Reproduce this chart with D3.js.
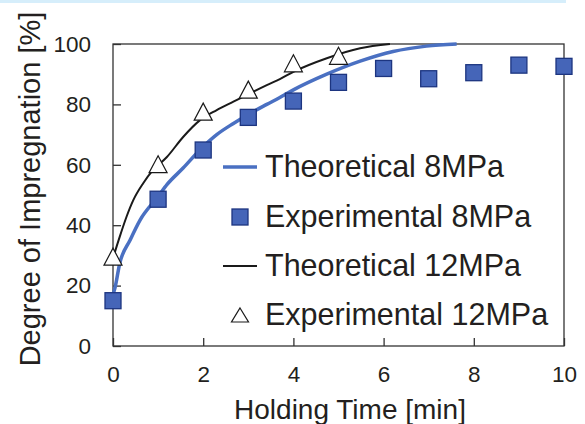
<!DOCTYPE html>
<html>
<head>
<meta charset="utf-8">
<script src="https://cdn.jsdelivr.net/npm/d3@7/dist/d3.min.js"></script>
<style>
  body { margin: 0; background: #fff; }
  text { font-family: "Liberation Sans", Arial, sans-serif; fill: #231f20; }
</style>
</head>
<body>
<svg id="chart"></svg>
<script>
// DATA
// --------------------------------------
var xTicks = [0, 2, 4, 6, 8, 10];
var yTicks = [0, 20, 40, 60, 80, 100];

var exp8Time = [0, 1, 2, 3, 4, 5, 6, 7, 8, 9, 10];
var exp8Value = [15, 48.6, 64.9, 75.7, 81.1, 87.3, 91.9, 88.5, 90.5, 93, 92.6];

var exp12Time = [0, 1, 2, 3, 4, 5];
var exp12Value = [29.6, 60.2, 77.6, 84.9, 93.6, 96.1];

// curves
var theo8Time = [0, 0.04, 0.15, 0.38, 0.6, 1.0, 1.2, 1.56, 1.93, 2.3, 2.67, 3.04, 3.41, 3.7, 4.0, 4.74, 5.48, 6.21, 6.95, 7.62];
var theo8Value = [17, 19, 27.4, 35.1, 41.7, 49.5, 53.5, 59, 65, 70, 73.7, 77, 80, 82.3, 84.8, 90, 94.3, 97.5, 99.3, 100];

var theo12Time = [0, 0.04, 0.15, 0.3, 0.45, 0.67, 0.89, 1.19, 1.56, 1.93, 2.3, 2.67, 3.04, 3.41, 3.7, 4.0, 4.74, 5.48, 6.14];
var theo12Value = [29, 31, 36.2, 42.8, 48.3, 53.9, 58.3, 62.5, 69.3, 74.8, 78.1, 80.9, 83.7, 86.4, 88.4, 90.8, 95.3, 98.6, 100];

var legendLabels = ["Theoretical 8MPa", "Experimental 8MPa", "Theoretical 12MPa", "Experimental 12MPa"];

// CONFIG
// --------------------------------------
var CONFIG = {
    width: 585,
    height: 424,
    left: 113,
    right: 564,
    top: 44,
    bottom: 346,
    blue: "#4a70c2",
    squareFill: "#4565b8",
    squareStroke: "#1d3580",
    axis: "#333"
};

var svg = d3.select("#chart").attr("width", CONFIG.width).attr("height", CONFIG.height);

svg.append("rect").attr("width", CONFIG.width).attr("height", CONFIG.height).attr("fill", "#fff");
// thin light-blue strip along the top edge
svg.append("rect").attr("x", 0).attr("y", 0).attr("width", 566).attr("height", 3).attr("fill", "#d6eefb");

var x = d3.scaleLinear().domain([0, 10]).range([CONFIG.left, CONFIG.right]);
var y = d3.scaleLinear().domain([0, 100]).range([CONFIG.bottom, CONFIG.top]);

// frame
svg.append("rect")
    .attr("x", CONFIG.left).attr("y", CONFIG.top)
    .attr("width", CONFIG.right - CONFIG.left).attr("height", CONFIG.bottom - CONFIG.top)
    .attr("fill", "none").attr("stroke", CONFIG.axis).attr("stroke-width", 1.3);

// axes, ticks inside
var xAxis = d3.axisBottom(x).tickValues(xTicks).tickSize(-8).tickPadding(14).tickFormat(d3.format("d"));
var yAxis = d3.axisLeft(y).tickValues(yTicks).tickSize(-8).tickPadding(22).tickFormat(d3.format("d"));

var gx = svg.append("g").attr("transform", "translate(0," + CONFIG.bottom + ")").call(xAxis);
var gy = svg.append("g").attr("transform", "translate(" + CONFIG.left + ",0)").call(yAxis);

[gx, gy].forEach(function(g){
    g.select(".domain").remove();
    g.selectAll(".tick line").attr("stroke", CONFIG.axis).attr("stroke-width", 1.3);
    g.selectAll(".tick text").attr("font-size", 22.5).attr("fill", "#231f20")
        .style("font-family", '"Liberation Sans", Arial, sans-serif');
});
gx.selectAll(".tick text").attr("dy", "0.71em").attr("y", 20);

// axis titles
svg.append("text")
    .attr("x", 350).attr("y", 419)
    .attr("text-anchor", "middle").attr("font-size", 28)
    .text("Holding Time [min]");

svg.append("text")
    .attr("transform", "translate(40,189) rotate(-90)")
    .attr("text-anchor", "middle").attr("font-size", 29)
    .text("Degree of Impregnation [%]");

// curves
var line = d3.line()
    .x(function(d){ return x(d[0]); })
    .y(function(d){ return y(d[1]); })
    .curve(d3.curveMonotoneX);

svg.append("path")
    .datum(d3.zip(theo12Time, theo12Value))
    .attr("d", line).attr("fill", "none")
    .attr("stroke", "#1a1a1a").attr("stroke-width", 2);

svg.append("path")
    .datum(d3.zip(theo8Time, theo8Value))
    .attr("d", line).attr("fill", "none")
    .attr("stroke", CONFIG.blue).attr("stroke-width", 3.5);

// markers
function trianglePath(w, h){
    return "M0," + (-h/2) + "L" + (w/2) + "," + (h/2) + "L" + (-w/2) + "," + (h/2) + "Z";
}

svg.append("g").selectAll("path")
    .data(d3.zip(exp12Time, exp12Value))
    .join("path")
    .attr("transform", function(d){ return "translate(" + x(d[0]) + "," + y(d[1]) + ")"; })
    .attr("d", trianglePath(18, 17))
    .attr("fill", "#fff").attr("stroke", "#1a1a1a").attr("stroke-width", 1.2);

svg.append("g").selectAll("rect")
    .data(d3.zip(exp8Time, exp8Value))
    .join("rect")
    .attr("x", function(d){ return x(d[0]) - 8; })
    .attr("y", function(d){ return y(d[1]) - 8; })
    .attr("width", 16).attr("height", 16)
    .attr("fill", CONFIG.squareFill).attr("stroke", CONFIG.squareStroke).attr("stroke-width", 1.3);

// legend
var legend = svg.append("g");
var rowY = [167, 217, 266, 315];

legendLabels.forEach(function(label, i){
    var ly = rowY[i];
    if(i === 0){
        legend.append("line").attr("x1", 223).attr("x2", 257).attr("y1", ly).attr("y2", ly)
            .attr("stroke", CONFIG.blue).attr("stroke-width", 3.5);
    } else if(i === 1){
        legend.append("rect").attr("x", 232).attr("y", ly - 8).attr("width", 16).attr("height", 16)
            .attr("fill", CONFIG.squareFill).attr("stroke", CONFIG.squareStroke).attr("stroke-width", 1.3);
    } else if(i === 2){
        legend.append("line").attr("x1", 223).attr("x2", 257).attr("y1", ly).attr("y2", ly)
            .attr("stroke", "#1a1a1a").attr("stroke-width", 2);
    } else {
        legend.append("path").attr("transform", "translate(240," + ly + ")")
            .attr("d", trianglePath(17, 14))
            .attr("fill", "#fff").attr("stroke", "#1a1a1a").attr("stroke-width", 1.2);
    }
    legend.append("text")
        .attr("x", 265).attr("y", ly + 10)
        .attr("font-size", 30.5)
        .text(label);
});
</script>
</body>
</html>
